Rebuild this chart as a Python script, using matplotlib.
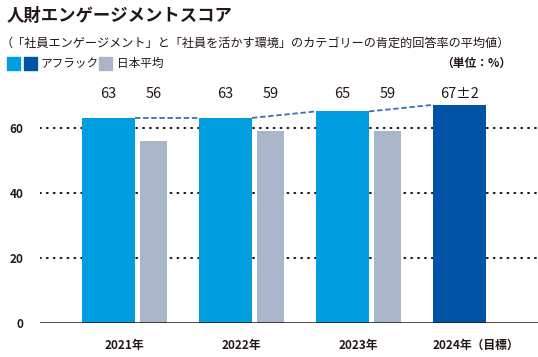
import matplotlib

matplotlib.use("Agg")
import matplotlib.pyplot as plt
import numpy as np
from matplotlib.patches import Rectangle

plt.rcParams["font.family"] = ["Noto Sans CJK JP", "DejaVu Sans"]

YEARS = ["2021年", "2022年", "2023年", "2024年（目標）"]
AFLAC = [63, 63, 65, 67]
AFLAC_LABELS = ["63", "63", "65", "67±2"]
JAPAN_AVG = [56, 59, 59]
JAPAN_LABELS = ["56", "59", "59"]
YTICKS = [0, 20, 40, 60]

TITLE = "人財エンゲージメントスコア"
SUBTITLE = "（「社員エンゲージメント」と「社員を活かす環境」のカテゴリーの肯定的回答率の平均値）"
LEGEND = ["アフラック", "日本平均"]
UNIT = "（単位：%）"

LIGHT_BLUE = "#009ddf"
DARK_BLUE = "#0053a5"
GRAY = "#a9b5c9"
DASH = "#3d6fb3"
TEXT = "#231815"

W, H = 538, 357


def fx(px):
    return px / W


def fy(py):
    return 1 - py / H


fig = plt.figure(figsize=(W / 100, H / 100), dpi=100)

# axes placed in pixel terms: zero line at y=323, 3.26 px per unit
y0_px = 323.3
ppu = 3.26
ymax = 72
ax = fig.add_axes([fx(40), 1 - y0_px / H, fx(498), ymax * ppu / H])

blue_w = 53 / 117
gap = 5 / 117
gray_w = 27 / 117
x = np.arange(len(YEARS), dtype=float)
blue_left = x - (blue_w + gap + gray_w) / 2
blue_c = blue_left + blue_w / 2
gray_c = blue_left + blue_w + gap + gray_w / 2

ax.set_xlim(blue_left[0] - 42 / 117, blue_left[0] + 456 / 117)
ax.set_ylim(0, ymax)

for t in YTICKS[1:]:
    ax.axhline(t, color=TEXT, linewidth=1.5, linestyle=(0, (0.4, 2.9)),
               dash_capstyle="round", zorder=1)
ax.axhline(0, color=TEXT, linewidth=1.1, zorder=4)

colors = [LIGHT_BLUE] * (len(AFLAC) - 1) + [DARK_BLUE]
ax.bar(blue_c, AFLAC, width=blue_w, color=colors, zorder=2)
ax.bar(gray_c[:len(JAPAN_AVG)], JAPAN_AVG, width=gray_w, color=GRAY, zorder=2)

# dashed connectors between top of Aflac bars
for i in range(len(AFLAC) - 1):
    ax.plot([blue_c[i] + blue_w / 2, blue_c[i + 1] - blue_w / 2], [AFLAC[i], AFLAC[i + 1]],
            color=DASH, linewidth=1.3, linestyle=(0, (3, 1.5)), zorder=3)

label_y = 70.4
for xc, lab in zip(blue_c, AFLAC_LABELS):
    ax.text(xc, label_y, lab, ha="center", va="center", fontsize=10.5, color=TEXT, clip_on=False)
for xc, lab in zip(gray_c, JAPAN_LABELS):
    ax.text(xc, label_y, lab, ha="center", va="center", fontsize=10.5, color=TEXT, clip_on=False)

ax.set_yticks(YTICKS)
ax.set_yticklabels([str(t) for t in YTICKS], fontsize=8.5, fontweight="bold", color=TEXT)
ax.tick_params(axis="y", length=0, pad=12)
ax.set_xticks(x)
ax.set_xticklabels(YEARS, fontsize=8.5, fontweight="bold", color=TEXT)
ax.tick_params(axis="x", length=0, pad=11)
for s in ax.spines.values():
    s.set_visible(False)

fig.text(fx(7), fy(16), TITLE, fontsize=12.5, fontweight="bold", color=TEXT, va="center", ha="left")
fig.text(fx(1), fy(43), SUBTITLE, fontsize=8.75, color=TEXT, va="center", ha="left")

# legend
for left, col in [(7, LIGHT_BLUE), (24, DARK_BLUE), (99, GRAY)]:
    fig.patches.append(Rectangle((fx(left), fy(70)), 13 / W, 13 / H, transform=fig.transFigure,
                                 color=col, figure=fig))
fig.text(fx(40), fy(63.5), LEGEND[0], fontsize=8.4, color=TEXT, va="center", ha="left")
fig.text(fx(117), fy(63.5), LEGEND[1], fontsize=8.4, color=TEXT, va="center", ha="left")
fig.text(fx(511), fy(63.5), UNIT, fontsize=8.5, fontweight="bold", color=TEXT, va="center", ha="right")

fig.savefig("out.png", dpi=100)
